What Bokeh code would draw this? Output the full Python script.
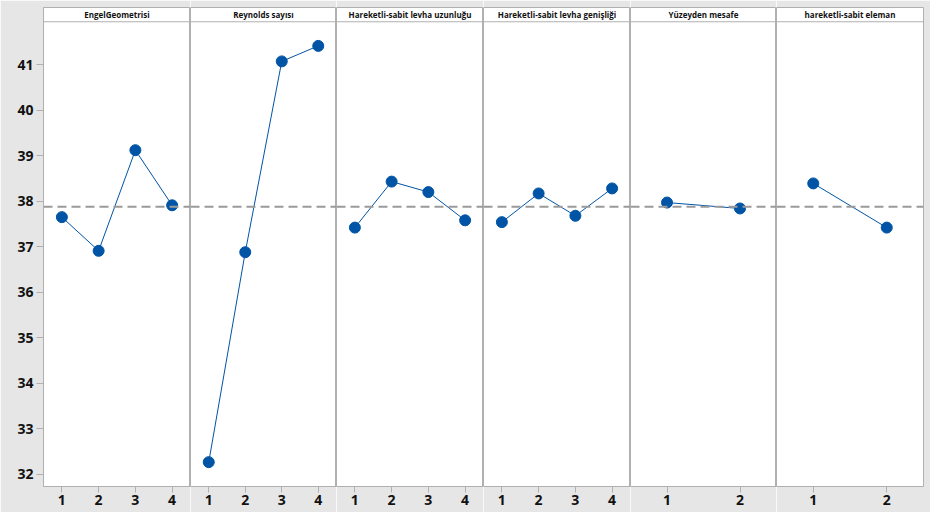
from bokeh.plotting import figure
from bokeh.layouts import row
from bokeh.models import Span, Label, FixedTicker, Range1d
from bokeh.embed import file_html
from bokeh.resources import INLINE

# ---- data ----
factors = ["EngelGeometrisi", "Reynolds sayısı", "Hareketli-sabit levha uzunluğu",
           "Hareketli-sabit levha genişliği", "Yüzeyden mesafe", "hareketli-sabit eleman"]
levels_4 = [1, 2, 3, 4]
levels_2 = [1, 2]
engel = [37.65, 36.91, 39.12, 37.91]
reynolds = [32.27, 36.88, 41.07, 41.41]
uzunluk = [37.42, 38.43, 38.20, 37.58]
genislik = [37.54, 38.17, 37.68, 38.28]
mesafe = [37.97, 37.84]
eleman = [38.39, 37.42]
grand_mean = 37.88
y_ticks = [32, 33, 34, 35, 36, 37, 38, 39, 40, 41]

series = [
    (levels_4, engel),
    (levels_4, reynolds),
    (levels_4, uzunluk),
    (levels_4, genislik),
    (levels_2, mesafe),
    (levels_2, eleman),
]

# ---- styling ----
BLUE = "#0054a6"
FRAME = "#b0b0b0"
BG = "#e6e6e6"
TXT = "#111111"
FONT = "Open Sans"
Y0, Y1 = 31.735, 42.253
HEADER_LINE = 41.94
HEADER_TEXT = 42.097

frame_widths = [147, 146, 147, 147, 146, 147]
H = 512

panels = []
for i, ((xs, ys), name) in enumerate(zip(series, factors)):
    left = 43 if i == 0 else 0
    right = 7 if i == len(factors) - 1 else 0
    p = figure(
        width=frame_widths[i] + left + right, height=H,
        x_range=Range1d(0.5, len(xs) + 0.5), y_range=Range1d(Y0, Y1),
        output_backend="svg", toolbar_location=None,
        y_axis_location="left" if i == 0 else None,
        min_border_left=left, min_border_right=right,
        min_border_top=7, min_border_bottom=26,
        background_fill_color="white", border_fill_color=BG,
        outline_line_color=FRAME, outline_line_width=1,
    )
    p.grid.visible = False

    # x axis
    xa = p.xaxis[0]
    xa.ticker = FixedTicker(ticks=xs)
    xa.axis_line_color = FRAME
    xa.major_tick_line_color = FRAME
    xa.major_tick_out = 6
    xa.major_tick_in = 0
    xa.minor_tick_line_color = None
    xa.major_label_standoff = 2
    xa.major_label_text_font = FONT
    xa.major_label_text_font_size = "14px"
    xa.major_label_text_font_style = "bold"
    xa.major_label_text_color = TXT

    if i == 0:
        ya = p.yaxis[0]
        ya.ticker = FixedTicker(ticks=y_ticks)
        ya.axis_line_color = FRAME
        ya.major_tick_line_color = FRAME
        ya.major_tick_out = 7
        ya.major_tick_in = 0
        ya.minor_tick_line_color = None
        ya.major_label_standoff = 3
        ya.major_label_text_font = FONT
        ya.major_label_text_font_size = "14px"
        ya.major_label_text_font_style = "bold"
        ya.major_label_text_color = TXT

    # header strip
    p.add_layout(Span(location=HEADER_LINE, dimension="width",
                      line_color=FRAME, line_width=1))
    p.add_layout(Label(x=(len(xs) + 1) / 2, y=HEADER_TEXT, text=name,
                       text_align="center", text_baseline="middle",
                       text_font=FONT, text_font_size="8px",
                       text_font_style="bold", text_color=TXT))

    # grand mean reference line
    p.add_layout(Span(location=grand_mean, dimension="width",
                      line_color="#9a9a9a", line_width=2, line_dash="9 5"))

    p.line(xs, ys, line_color=BLUE, line_width=1)
    p.scatter(xs, ys, size=11, fill_color=BLUE, line_color=BLUE)
    panels.append(p)

layout = row(*panels)

open("out.html", "w").write(file_html(layout, INLINE))
